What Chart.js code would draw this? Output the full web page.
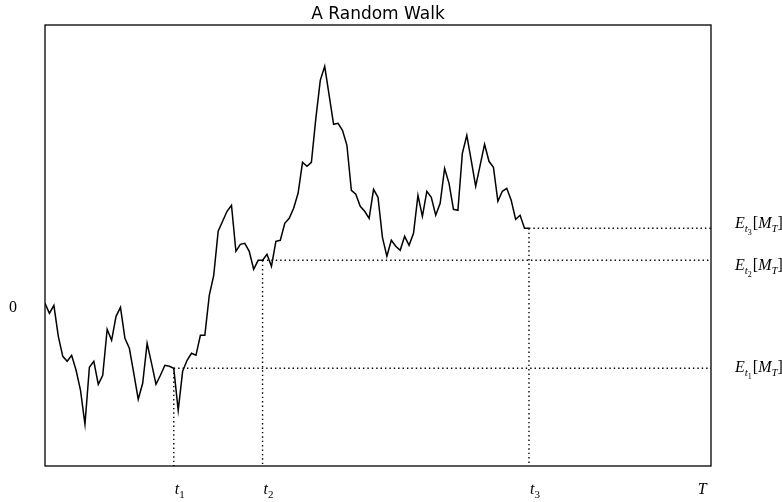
<!DOCTYPE html>
<html>
<head>
<meta charset="utf-8">
<script src="https://cdn.jsdelivr.net/npm/chart.js@4"></script>
<style>
html, body { margin: 0; padding: 0; background: #fff; }
#wrap { width: 782px; height: 502px; }
</style>
</head>
<body>
<div id="wrap"><canvas id="myChart"></canvas></div>
<script>
// random walk values, one per step
const walk = [
  0, -1.0, -0.2, -3.3, -5.3, -5.8, -5.2, -6.7, -8.7, -12.1,
  -6.4, -5.8, -8.1, -7.2, -2.6, -3.7, -1.3, -0.4, -3.5, -4.5,
  -7.0, -9.6, -8.0, -4.0, -6.0, -8.1, -7.2, -6.2, -6.3, -6.5,
  -10.7, -6.8, -5.7, -5.0, -5.2, -3.2, -3.2, 0.8, 2.8, 7.2,
  8.2, 9.2, 9.8, 5.2, 5.9, 6.0, 5.2, 3.4, 4.3, 4.3,
  4.9, 3.7, 6.2, 6.3, 8.0, 8.5, 9.5, 11.0, 14.1, 13.7,
  14.1, 18.5, 22.3, 23.7, 20.8, 17.9, 18.0, 17.3, 15.8, 11.3,
  10.9, 9.7, 9.2, 8.5, 11.4, 10.6, 6.6, 4.7, 6.3, 5.7,
  5.3, 6.7, 5.8, 7.0, 10.8, 8.7, 11.2, 10.6, 8.8, 10.0,
  13.5, 12.0, 9.4, 9.3, 15.0, 16.8, 14.3, 11.7, 13.8, 15.9,
  14.2, 13.6, 10.2, 11.2, 11.5, 10.3, 8.4, 8.8, 7.5, 7.5
];
const stops = [29, 49, 109];       // t1, t2, t3
const stopNames = ['1', '2', '3'];
const endStep = 150;               // T
const yLow = -16.27;
const yHigh = 27.83;

const black = '#000';
const serif = '"Liberation Serif", "DejaVu Serif", serif';

const datasets = [{
  data: walk.map((v, i) => ({ x: i, y: v })),
  borderColor: black,
  borderWidth: 1.5,
  pointRadius: 0,
  tension: 0
}];
stops.forEach(t => {
  datasets.push({
    data: [{ x: t, y: walk[t] }, { x: endStep, y: walk[t] }],
    borderColor: black, borderWidth: 1.4, borderDash: [1.4, 3],
    pointRadius: 0
  });
  datasets.push({
    data: [{ x: t, y: walk[t] }, { x: t, y: yLow }],
    borderColor: black, borderWidth: 1.4, borderDash: [1.4, 3],
    pointRadius: 0
  });
});

function pieces(ctx, x, y, list) {
  list.forEach(p => {
    ctx.font = (p.it ? 'italic ' : '') + p.sz + 'px ' + serif;
    ctx.fillText(p.s, x, y + (p.dy || 0));
    x += ctx.measureText(p.s).width + (p.gap || 0);
  });
}

const decor = {
  id: 'decor',
  afterDraw(chart) {
    const ctx = chart.ctx;
    const a = chart.chartArea;
    const xs = chart.scales.x, ys = chart.scales.y;
    ctx.save();
    ctx.strokeStyle = black;
    ctx.lineWidth = 1.3;
    ctx.strokeRect(a.left, a.top, a.right - a.left, a.bottom - a.top);

    ctx.fillStyle = black;
    ctx.textBaseline = 'alphabetic';
    ctx.textAlign = 'center';
    ctx.font = '17px "DejaVu Sans", sans-serif';
    ctx.fillText('A Random Walk', (a.left + a.right) / 2, 19);

    ctx.textAlign = 'left';
    // y tick
    pieces(ctx, 9, ys.getPixelForValue(0) + 9, [{ s: '0', sz: 16 }]);

    // x ticks
    stops.forEach((t, i) => {
      pieces(ctx, xs.getPixelForValue(t) + 1, 494, [
        { s: 't', sz: 16, it: true },
        { s: stopNames[i], sz: 11, dy: 4 }
      ]);
    });
    pieces(ctx, xs.getPixelForValue(147), 494, [{ s: 'T', sz: 16, it: true }]);

    // right-hand labels
    const shift = [4, 10, 0];
    stops.forEach((t, i) => {
      pieces(ctx, 735, ys.getPixelForValue(walk[t]) + shift[i], [
        { s: 'E', sz: 16, it: true },
        { s: 't', sz: 11, it: true, dy: 4 },
        { s: stopNames[i], sz: 8, dy: 7, gap: 1 },
        { s: '[', sz: 16 },
        { s: 'M', sz: 16, it: true },
        { s: 'T', sz: 11, it: true, dy: 4 },
        { s: ']', sz: 16 }
      ]);
    });
    ctx.restore();
  }
};

new Chart(document.getElementById('myChart').getContext('2d'), {
  type: 'line',
  data: { datasets: datasets },
  options: {
    responsive: true,
    maintainAspectRatio: false,
    animation: false,
    layout: { padding: { left: 45, top: 25, right: 71, bottom: 36 } },
    plugins: { legend: { display: false }, tooltip: { enabled: false } },
    scales: {
      x: { type: 'linear', min: 0, max: endStep, display: false },
      y: { type: 'linear', min: yLow, max: yHigh, display: false }
    }
  },
  plugins: [decor]
});
</script>
</body>
</html>
